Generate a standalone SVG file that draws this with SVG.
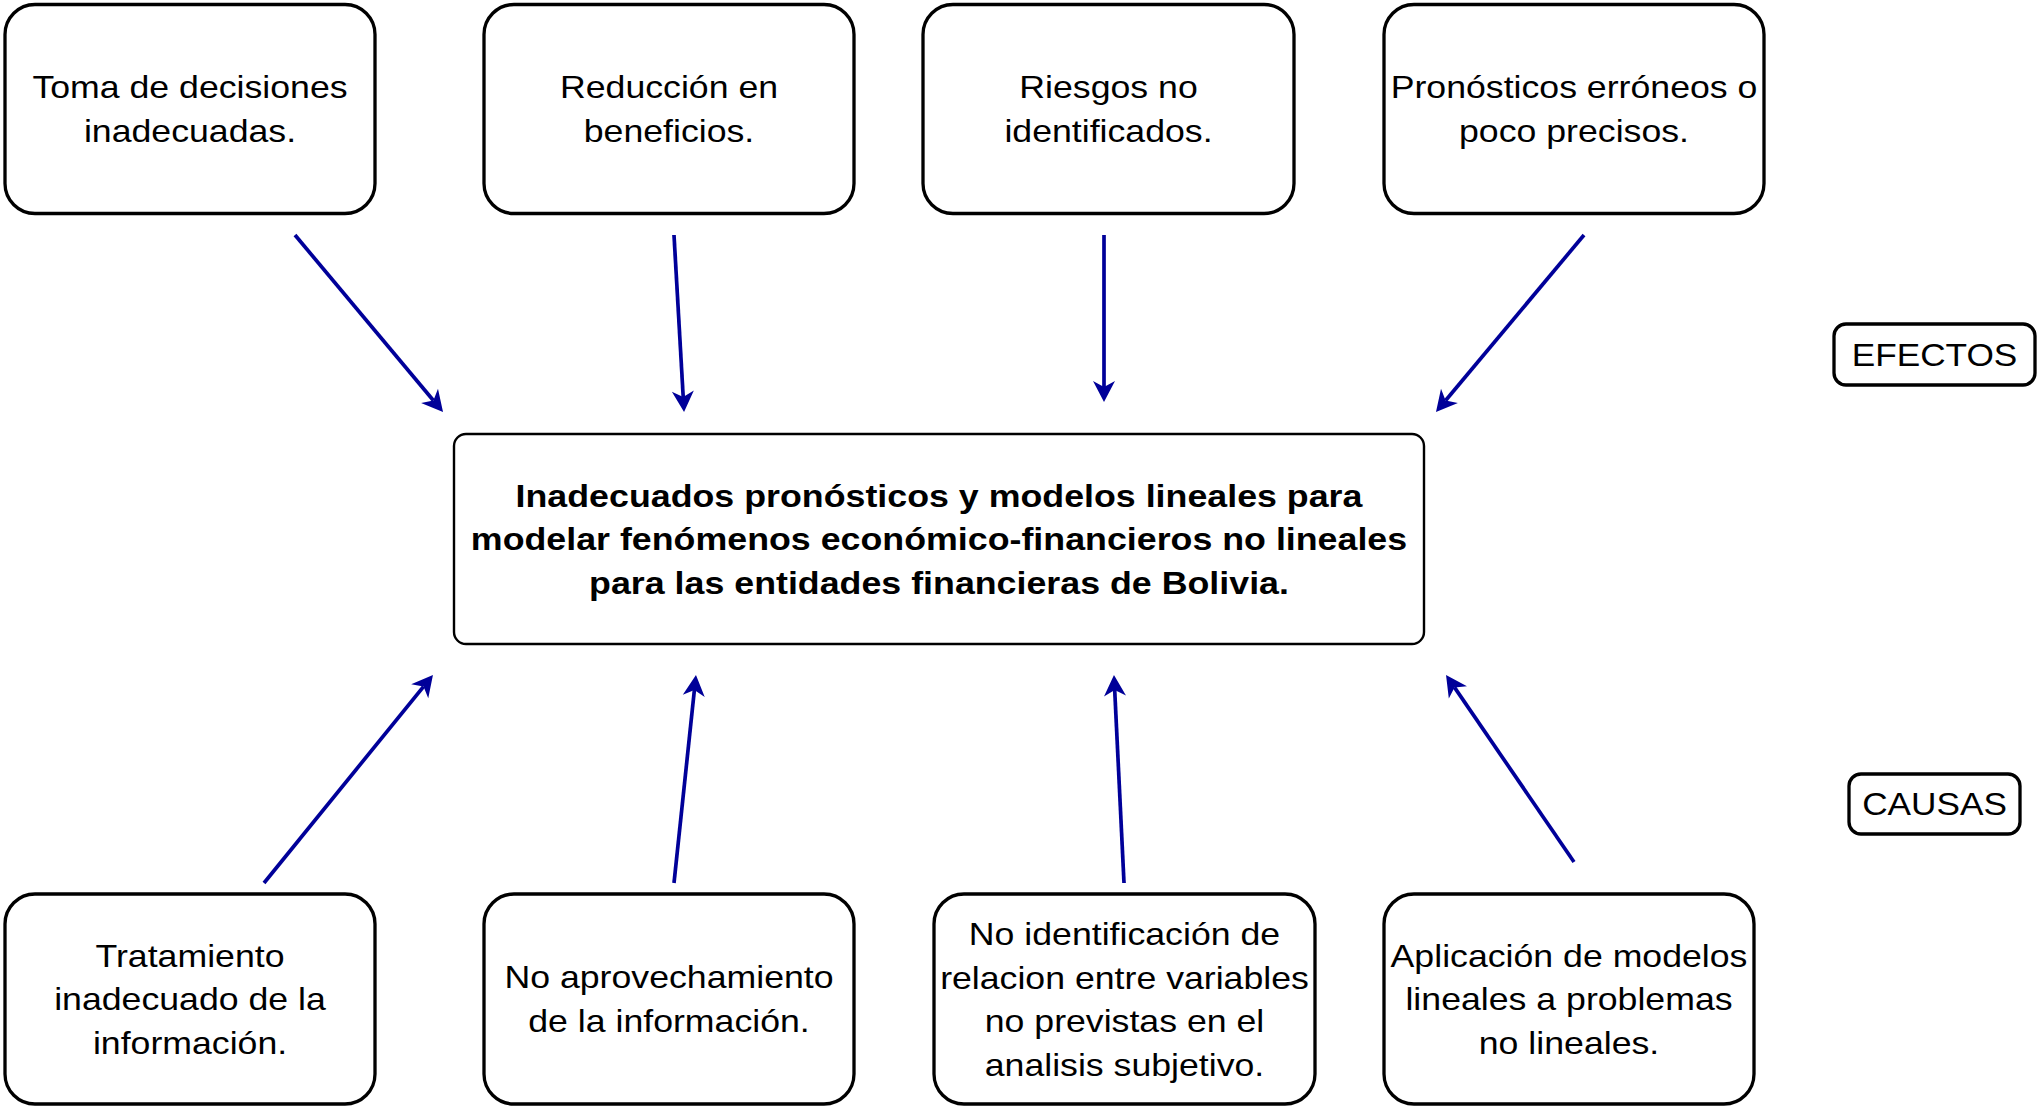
<svg xmlns="http://www.w3.org/2000/svg" width="2039" height="1108" viewBox="0 0 2039 1108">
<style>
.box{fill:#fff;stroke:#000;stroke-width:3.3}
.main{fill:#fff;stroke:#000;stroke-width:2.4}
.t{font-family:"Liberation Sans",Arial,sans-serif;font-size:32px;fill:#000;text-anchor:middle}
.b{font-weight:bold}
.arr{stroke:#000099;stroke-width:3.7;fill:none;marker-end:url(#ah)}
</style>
<defs>
<marker id="ah" markerUnits="userSpaceOnUse" orient="auto" refX="0" refY="0" markerWidth="40" markerHeight="40" viewBox="-20 -20 40 40" overflow="visible">
<path d="M15,0 L-6,-11 L0,0 L-6,11 Z" fill="#000099"/>
</marker>
</defs>
<rect width="2039" height="1108" fill="#fff"/>
<g id="connectors">
<line class="arr" x1="295" y1="235" x2="433.4" y2="400.5"/>
<line class="arr" x1="674" y1="235" x2="683.2" y2="397"/>
<line class="arr" x1="1104" y1="235" x2="1104" y2="387"/>
<line class="arr" x1="1584" y1="235" x2="1445.6" y2="400.5"/>
<line class="arr" x1="264" y1="883" x2="423.5" y2="686.6"/>
<line class="arr" x1="674" y1="883" x2="694.4" y2="689.9"/>
<line class="arr" x1="1124" y1="883" x2="1114.7" y2="690"/>
<line class="arr" x1="1574" y1="862" x2="1454.5" y2="687.4"/>
</g>
<g id="e1">
<rect class="box" x="5" y="4.5" width="370" height="209" rx="30"/>
<g transform="translate(190 0) scale(1.115 1)"><text class="t" x="0" y="98.5">Toma de decisiones</text><text class="t" x="0" y="142.5">inadecuadas.</text></g>
</g>
<g id="e2">
<rect class="box" x="484" y="4.5" width="370" height="209" rx="30"/>
<g transform="translate(669 0) scale(1.115 1)"><text class="t" x="0" y="98.5">Reducción en</text><text class="t" x="0" y="142.5">beneficios.</text></g>
</g>
<g id="e3">
<rect class="box" x="923" y="4.5" width="371" height="209" rx="30"/>
<g transform="translate(1108.5 0) scale(1.115 1)"><text class="t" x="0" y="98.5">Riesgos no</text><text class="t" x="0" y="142.5">identificados.</text></g>
</g>
<g id="e4">
<rect class="box" x="1384" y="4.5" width="380" height="209" rx="30"/>
<g transform="translate(1574 0) scale(1.115 1)"><text class="t" x="0" y="98.5">Pronósticos erróneos o</text><text class="t" x="0" y="142.5">poco precisos.</text></g>
</g>
<g id="problema">
<rect class="main" x="454" y="434" width="970" height="210" rx="12"/>
<g transform="translate(939 0) scale(1.118 1)"><text class="t b" x="0" y="507">Inadecuados pronósticos y modelos lineales para</text><text class="t b" x="0" y="550.5">modelar fenómenos económico-financieros no lineales</text><text class="t b" x="0" y="594">para las entidades financieras de Bolivia.</text></g>
</g>
<g id="efectos">
<rect class="box" x="1834" y="324" width="201" height="61" rx="12"/>
<g transform="translate(1934.5 0) scale(1.1 1)"><text class="t" x="0" y="366">EFECTOS</text></g>
</g>
<g id="causas">
<rect class="box" x="1849" y="774" width="171" height="60" rx="12"/>
<g transform="translate(1934.5 0) scale(1.1 1)"><text class="t" x="0" y="815.5">CAUSAS</text></g>
</g>
<g id="c1">
<rect class="box" x="5" y="894" width="370" height="210" rx="30"/>
<g transform="translate(190 0) scale(1.115 1)"><text class="t" x="0" y="967">Tratamiento</text><text class="t" x="0" y="1010.5">inadecuado de la</text><text class="t" x="0" y="1054">información.</text></g>
</g>
<g id="c2">
<rect class="box" x="484" y="894" width="370" height="210" rx="30"/>
<g transform="translate(669 0) scale(1.115 1)"><text class="t" x="0" y="988.5">No aprovechamiento</text><text class="t" x="0" y="1032.5">de la información.</text></g>
</g>
<g id="c3">
<rect class="box" x="934" y="894" width="381" height="210" rx="30"/>
<g transform="translate(1124.5 0) scale(1.115 1)"><text class="t" x="0" y="945.5">No identificación de</text><text class="t" x="0" y="989">relacion entre variables</text><text class="t" x="0" y="1032.5">no previstas en el</text><text class="t" x="0" y="1076">analisis subjetivo.</text></g>
</g>
<g id="c4">
<rect class="box" x="1384" y="894" width="370" height="210" rx="30"/>
<g transform="translate(1569 0) scale(1.115 1)"><text class="t" x="0" y="967">Aplicación de modelos</text><text class="t" x="0" y="1010.5">lineales a problemas</text><text class="t" x="0" y="1054">no lineales.</text></g>
</g>
</svg>
